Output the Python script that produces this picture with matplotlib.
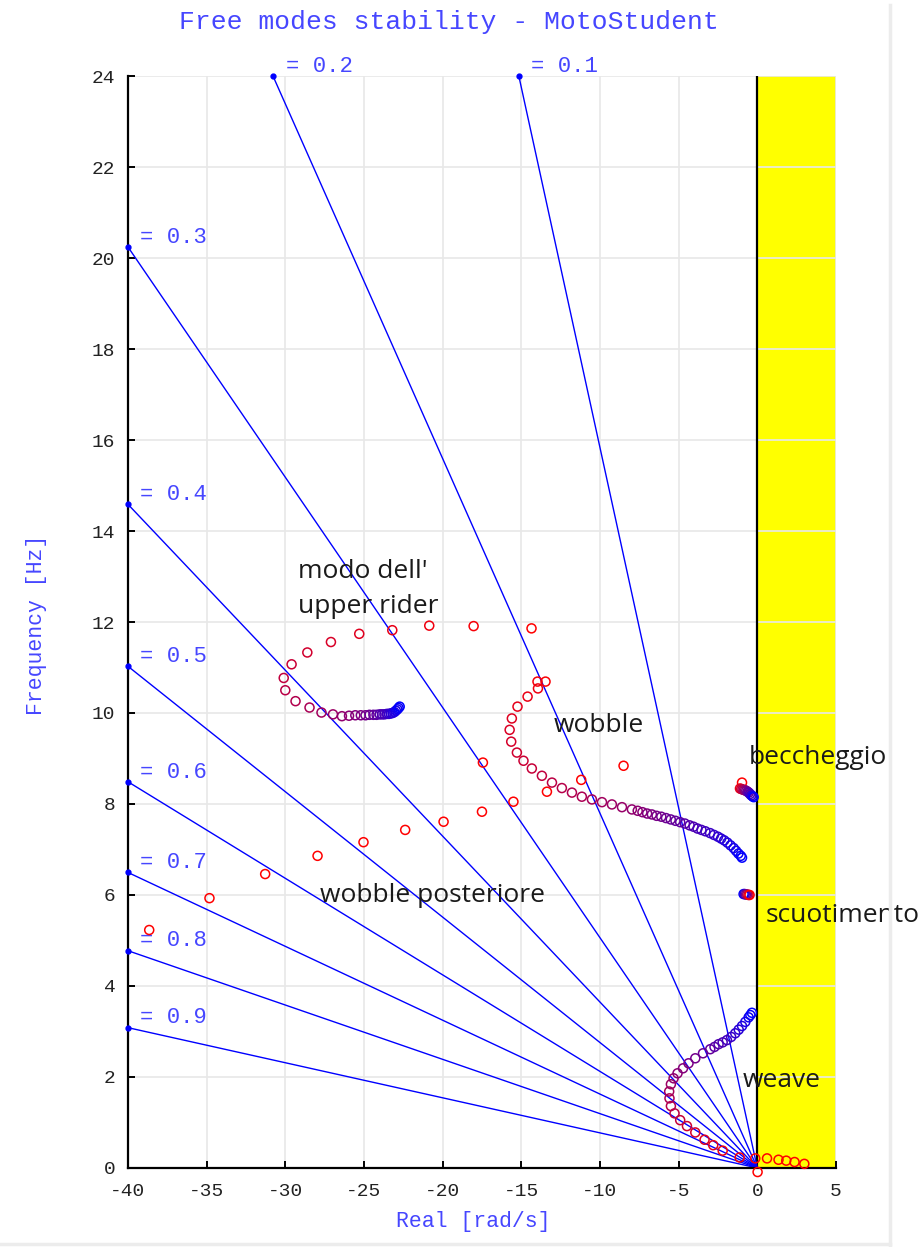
import numpy as np
import matplotlib.pyplot as plt
from matplotlib.lines import Line2D

plt.rcParams['font.family'] = ['Liberation Mono', 'DejaVu Sans Mono']
plt.rcParams['axes.unicode_minus'] = False

# rette a smorzamento costante
zeta = [0.1, 0.2, 0.3, 0.4, 0.5, 0.6, 0.7, 0.8, 0.9]

# modi liberi: parte reale [rad/s] e frequenza [Hz], dalla velocita' minima alla massima
upper_re = [-14.35, -18.03, -20.85, -23.2, -25.3, -27.1, -28.6, -29.6, -30.1, -30.0,
            -29.35, -28.46, -27.7, -26.97, -26.4, -25.95, -25.55, -25.2, -24.9, -24.65,
            -24.4, -24.2, -24.0, -23.85, -23.7, -23.55, -23.42, -23.3, -23.18, -23.07,
            -22.97, -22.88, -22.8, -22.73]
upper_f = [11.86, 11.91, 11.92, 11.82, 11.74, 11.56, 11.33, 11.07, 10.77, 10.5,
           10.26, 10.12, 10.01, 9.97, 9.93, 9.94, 9.95, 9.95, 9.95, 9.96,
           9.96, 9.96, 9.97, 9.97, 9.97, 9.98, 9.98, 9.99, 10.0, 10.02,
           10.05, 10.08, 10.11, 10.14]

wobble_re = [-17.44, -13.46, -13.97, -13.94, -14.6, -15.24, -15.6, -15.74, -15.64, -15.28,
             -14.86, -14.33, -13.69, -13.05, -12.42, -11.78, -11.15, -10.51, -9.87, -9.24,
             -8.6, -7.97, -7.6, -7.3, -7.0, -6.7, -6.4, -6.1, -5.8, -5.5,
             -5.2, -4.9, -4.6, -4.3, -4.05, -3.8, -3.55, -3.3, -3.0, -2.75,
             -2.5, -2.3, -2.1, -1.9, -1.7, -1.5, -1.35, -1.2, -1.05, -0.97]
wobble_f = [8.91, 10.69, 10.69, 10.54, 10.36, 10.14, 9.88, 9.63, 9.37, 9.13,
            8.95, 8.78, 8.62, 8.47, 8.35, 8.25, 8.16, 8.10, 8.04, 7.99,
            7.93, 7.88, 7.85, 7.82, 7.79, 7.77, 7.74, 7.72, 7.69, 7.66,
            7.63, 7.6, 7.57, 7.53, 7.5, 7.46, 7.43, 7.4, 7.36, 7.32,
            7.28, 7.24, 7.2, 7.15, 7.09, 7.03, 6.97, 6.91, 6.86, 6.82]

rear_re = [-38.65, -34.82, -31.28, -27.95, -25.03, -22.38, -19.94, -17.5, -15.5, -13.37, -11.19, -8.5]
rear_f = [5.23, 5.93, 6.46, 6.86, 7.16, 7.43, 7.61, 7.83, 8.05, 8.27, 8.53, 8.84]

pitch_re = [-0.97, -1.1, -1.02, -0.94, -0.86, -0.78, -0.7, -0.62, -0.54, -0.46, -0.38, -0.3, -0.23]
pitch_f = [8.47, 8.34, 8.33, 8.32, 8.31, 8.3, 8.29, 8.27, 8.25, 8.22, 8.19, 8.17, 8.15]

bounce_re = [-0.49, -0.56, -0.64, -0.72, -0.8, -0.87]
bounce_f = [6.0, 6.0, 6.01, 6.01, 6.02, 6.02]

weave_re = [0.02, -1.12, -2.2, -2.8, -3.35, -3.94, -4.47, -4.9, -5.26, -5.49,
            -5.58, -5.6, -5.49, -5.32, -5.07, -4.72, -4.37, -3.94, -3.45, -2.99,
            -2.72, -2.46, -2.2, -1.93, -1.66, -1.4, -1.18, -0.97, -0.76, -0.55,
            -0.44, -0.34]
weave_f = [-0.09, 0.23, 0.38, 0.5, 0.62, 0.78, 0.92, 1.05, 1.2, 1.36,
           1.53, 1.68, 1.84, 1.97, 2.08, 2.19, 2.3, 2.41, 2.52, 2.61,
           2.66, 2.72, 2.76, 2.81, 2.88, 2.96, 3.04, 3.12, 3.21, 3.31,
           3.36, 3.41]

capsize_re = [2.99, 2.37, 1.84, 1.35, 0.62, -0.13]
capsize_f = [0.09, 0.13, 0.16, 0.18, 0.21, 0.21]

XMIN, XMAX, YMAX = -40, 5, 24


def gradient(n, reverse=False):
    # rosso -> blu lungo la serie
    t = np.linspace(0, 1, n)[:, None]
    if reverse:
        t = t[::-1]
    return (1 - t) * np.array([1.0, 0, 0]) + t * np.array([0, 0, 1.0])


fig = plt.figure(figsize=(9.24, 12.47), dpi=100)
ax = fig.add_axes([0.1385, 0.0634, 0.7662, 0.8756])

ax.axvspan(0, XMAX, color='yellow', zorder=0.1)
ax.axvline(0, color='black', lw=1.6, zorder=2)

# rette zeta costante
for z in zeta:
    k = -2 * np.pi * z / np.sqrt(1 - z ** 2)
    if k * YMAX >= XMIN:
        xe, ye = k * YMAX, YMAX
    else:
        xe, ye = XMIN, XMIN / k
    ax.plot([0, xe], [0, ye], color='blue', lw=1.0, zorder=2)
    ax.plot(xe, ye, marker='o', ms=3.5, color='blue', clip_on=False, zorder=3)
    ax.annotate(f'= {z:.1f}', (xe, ye), xytext=(9, 7), textcoords='offset points',
                ha='left', va='center', fontsize=16, color='#4646ff', annotation_clip=False)

mk = dict(s=42, facecolors='none', linewidths=1.1, clip_on=False, zorder=4)
ax.scatter(rear_re, rear_f, edgecolors='red', **mk)
ax.scatter(capsize_re, capsize_f, edgecolors='red', **mk)
ax.scatter(upper_re, upper_f, edgecolors=gradient(len(upper_re)), **mk)
ax.scatter(wobble_re, wobble_f, edgecolors=gradient(len(wobble_re)), **mk)
ax.scatter(weave_re, weave_f, edgecolors=gradient(len(weave_re)), **mk)
ax.scatter(pitch_re, pitch_f, edgecolors=gradient(len(pitch_re)), **mk)
ax.scatter(bounce_re[::-1], bounce_f[::-1], edgecolors=gradient(len(bounce_re), reverse=True), **mk)

# nomi dei modi
txt = dict(family=['Open Sans', 'DejaVu Sans'], fontsize=19, color='#1a1a1a', zorder=5)
ax.text(-29.2, 13.1, "modo dell'", va='center', ha='left', **txt)
ax.text(-29.2, 12.35, 'upper rider', va='center', ha='left', **txt)
ax.text(-12.97, 9.72, 'wobble', va='center', ha='left', **txt)
ax.text(-0.57, 9.03, 'beccheggio', va='center', ha='left', clip_on=False, **txt)
ax.text(0.51, 5.54, 'scuotimento', va='center', ha='left', clip_on=False, **txt)
ax.text(-27.78, 5.98, 'wobble posteriore', va='center', ha='left', **txt)
ax.text(-0.95, 1.93, 'weave', va='center', ha='left', **txt)

ax.set_xlim(XMIN, XMAX)
ax.set_ylim(0, YMAX)
ax.set_xticks(np.arange(-40, 6, 5))
ax.set_yticks(np.arange(0, 25, 2))
ax.grid(True, color='#e8e8e8', lw=1.2)
ax.set_axisbelow(True)
for side in ('top', 'right'):
    ax.spines[side].set_visible(False)
for side in ('left', 'bottom'):
    ax.spines[side].set_linewidth(1.6)
ax.tick_params(direction='in', length=5, width=1.4, labelsize=14, labelcolor='#222222')
ax.tick_params(axis='x', pad=11)
ax.tick_params(axis='y', pad=9)

fig.text(0.486, 0.9824, 'Free modes stability - MotoStudent', ha='center', va='center',
         fontsize=19, color='#4646ff')
fig.text(0.512, 0.0201, 'Real [rad/s]', ha='center', va='center', fontsize=15.5, color='#4646ff')
fig.text(0.040, 0.4988, 'Frequency [Hz]', ha='center', va='center', rotation=90,
         fontsize=15.5, color='#4646ff')

# cornice esterna
fig.add_artist(Line2D([890 / 924, 890 / 924], [0, 1 - 5 / 1247], color='#ececec', lw=2.5))
fig.add_artist(Line2D([0, 890 / 924], [3 / 1247, 3 / 1247], color='#ececec', lw=2.5))

fig.savefig('out.png', dpi=100)
